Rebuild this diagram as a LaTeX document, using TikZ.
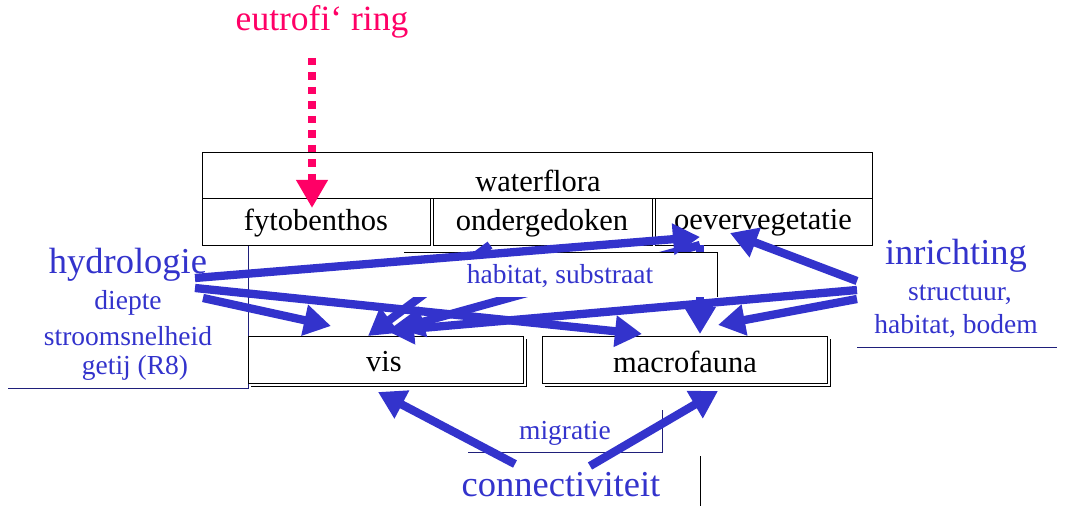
\documentclass[tikz,border=0pt]{standalone}
\usepackage{fontspec}
\setmainfont{Liberation Serif}
\usetikzlibrary{arrows.meta}
\definecolor{infl}{RGB}{51,51,204}
\definecolor{eutro}{RGB}{255,0,102}
\tikzset{
  box/.style={draw=black, line width=1.1pt, fill=white},
  cell/.style={box, minimum height=47pt, inner sep=0pt, anchor=north west},
  big/.style={font=\fontsize{30.5}{36}\selectfont},
  factor/.style={text=infl, font=\fontsize{36.5}{40}\selectfont, inner sep=0pt},
  detail/.style={text=infl, font=\fontsize{27.5}{32}\selectfont, inner sep=0pt},
  effect/.style={draw=infl, line width=8.3pt, -{Triangle[length=27pt,width=30pt]}},
  frame/.style={draw=black, line width=0.8pt},
}
\begin{document}
\begin{tikzpicture}[x=1pt,y=-1pt]
\useasboundingbox (0,0) rectangle (1069,508);

% text boxes of the driving factors (white, only partly framed)
\fill[white] (8,235) rectangle (248,388);
\draw[frame, draw=infl!60!black] (248,235) -- (248,388) -- (8,388);
\draw[frame, draw=infl!60!black] (857,347) -- (1057,347);
\draw[frame, draw=infl!60!black] (468,452) -- (662,452) -- (662,410);
\draw[frame] (700,456) -- (700,506);

% water flora
\node[box, big, minimum width=670pt, minimum height=46pt, inner sep=0pt, anchor=north west] (flora) at (202,152) {};
\node[big, inner sep=0pt] (floralab) at (538,181) {waterflora};
\node[cell, big, minimum width=228pt] (fyto) at (202,198) {};
\node[big, inner sep=0pt] at (316,223) {fytobenthos};
\node[cell, big, minimum width=219pt] (onder) at (433,198) {};
\node[big, inner sep=0pt] at (542,223) {ondergedoken};
\node[cell, big, minimum width=217pt] (oever) at (655,198) {};
\node[big, inner sep=0pt] at (763,223) {oevervegetatie};

% fauna boxes with a double edge below and to the right
\draw[line width=1pt] (251,386) -- (526,386) -- (526,339);
\draw[line width=1pt] (545,386) -- (830,386) -- (830,339);
\node[box, minimum width=275pt, minimum height=47pt, inner sep=0pt, anchor=north west] (vis) at (248,336) {};
\node[big, inner sep=0pt] at (384,362) {vis};
\node[box, minimum width=285pt, minimum height=47pt, inner sep=0pt, anchor=north west] (macro) at (542,336) {};
\node[big, inner sep=0pt] at (685,362) {macrofauna};

% start and end points of the arrows
\coordinate (h1) at (195,278);
\coordinate (h2) at (195,288);
\coordinate (h3) at (203,298);
\coordinate (i1) at (857,281);
\coordinate (i2) at (857,290);
\coordinate (i3) at (857,299);
\coordinate (c1) at (515,464);
\coordinate (c2) at (590,466);
\coordinate (ob) at (490,245);
\coordinate (vb) at (700,245);
\coordinate (e0) at (312,58);
\coordinate (oeverT) at (700,237);
\coordinate (oeverR) at (730,233);
\coordinate (visA) at (331,326);
\coordinate (visB) at (368,336);
\coordinate (visC) at (397,329);
\coordinate (visD) at (387,331);
\coordinate (visE) at (378,392);
\coordinate (macA) at (642,334);
\coordinate (macB) at (700,334);
\coordinate (macC) at (718,325);
\coordinate (macE) at (718,391);
\coordinate (fytoT) at (312,208);

% arrows from the vegetation, running behind the label box
\draw[effect] (ob) -- (visB);
\draw[effect] (vb) -- (visC);
\draw[effect] (vb) -- (macB);

% habitat label box
\fill[white] (404,252) rectangle (717,297);
\draw[frame] (404,252) -- (717,252) -- (717,297);
\node[detail] (habsub) at (560,276) {habitat, substraat};

% hydrologie
\draw[effect] (h1) -- (oeverT);
\draw[effect] (h2) -- (macA);
\draw[effect] (h3) -- (visA);
% inrichting
\draw[effect] (i1) -- (oeverR);
\draw[effect] (i2) -- (visD);
\draw[effect] (i3) -- (macC);
% connectiviteit
\draw[effect] (c1) -- (visE);
\draw[effect] (c2) -- (macE);

% eutrofiering
\draw[draw=eutro, line width=8pt, dash pattern=on 7.5pt off 7pt,
      -{Triangle[length=28pt,width=30pt]}] (e0) -- (fytoT);

% labels
\node[text=eutro, font=\fontsize{35.5}{40}\selectfont, inner sep=0pt] (eut) at (322,22) {eutrofi‘ ring};
\node[factor] (hyd) at (128,265) {hydrologie};
\node[detail] at (128,303) {diepte};
\node[detail] at (128,336) {stroomsnelheid};
\node[detail] at (135,368) {getij (R8)};
\node[factor] (inr) at (956,256) {inrichting};
\node[detail] at (960,295) {structuur,};
\node[detail] at (956,326) {habitat, bodem};
\node[detail] (mig) at (565,433) {migratie};
\node[factor] (con) at (561,485) {connectiviteit};
\end{tikzpicture}
\end{document}
